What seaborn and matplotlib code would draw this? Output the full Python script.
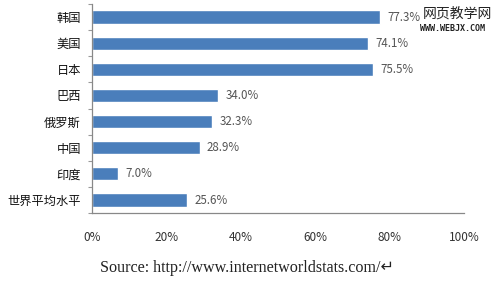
import matplotlib
matplotlib.use("Agg")
import matplotlib.pyplot as plt
import seaborn as sns
import pandas as pd
import numpy as np

categories = ["韩国", "美国", "日本", "巴西", "俄罗斯", "中国", "印度", "世界平均水平"]
values = [77.3, 74.1, 75.5, 34.0, 32.3, 28.9, 7.0, 25.6]
xticks = [0, 20, 40, 60, 80, 100]
xtick_labels = ["0%", "20%", "40%", "60%", "80%", "100%"]
source_text = "Source: http://www.internetworldstats.com/↵"

sns.set_theme(style="white")
plt.rcParams['font.family'] = ['Noto Sans CJK SC', 'DejaVu Sans']

df = pd.DataFrame({"cat": categories, "val": values})

fig = plt.figure(figsize=(5, 2.83), dpi=100)
ax = fig.add_axes([0.184, 0.247, 0.744, 0.739])
sns.barplot(data=df, x="val", y="cat", color="#4a7ebb", saturation=1, width=0.5,
            ax=ax, orient="h")

ax.set_xlim(0, 100)
ax.set_ylim(len(categories) - 0.5, -0.5)
ax.set_xlabel("")
ax.set_ylabel("")
ax.set_xticks(xticks)
ax.set_xticklabels(xtick_labels, fontsize=8.5, color="#333333")
ax.tick_params(axis="x", direction="in", length=4, width=0.8, color="#888888", pad=13)
ax.tick_params(axis="y", length=0, pad=8, labelsize=8.8, labelcolor="#111111")
ax.set_yticks(np.arange(-0.5, len(categories), 1.0), minor=True)
ax.tick_params(axis="y", which="minor", length=3, width=0.8, color="#999999", direction="out", left=True)

for s in ["top", "right"]:
    ax.spines[s].set_visible(False)
for s in ["left", "bottom"]:
    ax.spines[s].set_color("#888888")
    ax.spines[s].set_linewidth(0.9)

for i, v in enumerate(values):
    ax.text(v + 2, i, f"{v:.1f}%", va="center", ha="left", fontsize=8.3, color="#555555")

fig.text(0.2, 0.052, source_text, ha="left", va="center", fontsize=11.6,
         family=["Liberation Serif", "DejaVu Sans"], color="#222222")

fig.text(0.846, 0.952, "网页教学网", ha="left", va="center", fontsize=10, color="#222222")
fig.text(0.84, 0.9, "WWW.WEBJX.COM", ha="left", va="center", fontsize=6,
         color="#222222", family=["DejaVu Sans Mono"], weight="bold")

fig.savefig("out.png", dpi=100, facecolor="white")
